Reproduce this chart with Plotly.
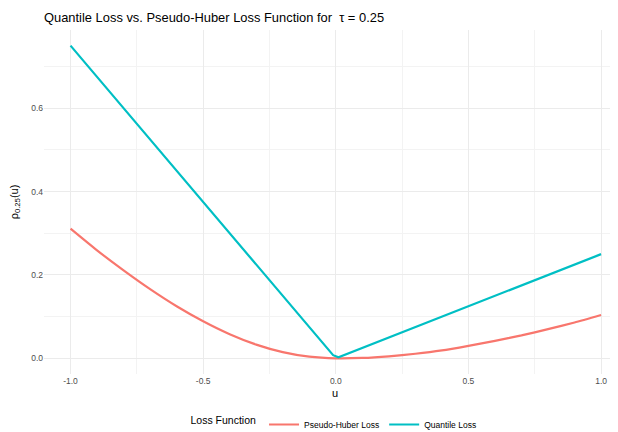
import plotly.graph_objects as go

# Data
u_huber = [-1.0, -0.9, -0.8, -0.7, -0.6, -0.5, -0.4, -0.3, -0.2, -0.1, 0.0,
           0.1, 0.2, 0.3, 0.4, 0.5, 0.6, 0.7, 0.8, 0.9, 1.0]
huber_loss = [0.311, 0.259, 0.211, 0.166, 0.125, 0.089, 0.058, 0.033, 0.015, 0.004, 0.000,
              0.001, 0.005, 0.011, 0.019, 0.030, 0.042, 0.055, 0.070, 0.086, 0.104]
u_quant = [-1.0, -0.0101, 0.0101, 1.0]
quant_loss = [0.75, 0.0076, 0.0025, 0.25]

x_ticks = [-1.0, -0.5, 0.0, 0.5, 1.0]
x_tick_labels = ["-1.0", "-0.5", "0.0", "0.5", "1.0"]
y_ticks = [0.0, 0.2, 0.4, 0.6]
y_tick_labels = ["0.0", "0.2", "0.4", "0.6"]

RED = "#F8766D"
TEAL = "#00BFC4"
GRID = "#EBEBEB"
FONT = "Liberation Sans, Arial, sans-serif"

# page body adds an 8px offset
W, H = 618, 431

fig = go.Figure()
fig.add_trace(go.Scatter(x=u_huber, y=huber_loss, mode="lines", name="Pseudo-Huber Loss",
                         line=dict(color=RED, width=2.2, shape="spline", smoothing=0.6)))
fig.add_trace(go.Scatter(x=u_quant, y=quant_loss, mode="lines", name="Quantile Loss",
                         line=dict(color=TEAL, width=2.2)))

fig.update_layout(
    width=W, height=H,
    margin=dict(l=36, r=0, t=22, b=H - 365.6, autoexpand=False),
    paper_bgcolor="white", plot_bgcolor="white",
    font=dict(family=FONT, color="#4D4D4D"),
    title=dict(text="Quantile Loss vs. Pseudo-Huber Loss Function for  τ = 0.25",
               font=dict(size=12.9, color="black", family=FONT),
               xref="container", x=36/W, xanchor="left",
               yref="container", y=1 - 9/H, yanchor="middle"),
    xaxis=dict(range=[-1.1, 1.094], tickvals=x_ticks, ticktext=x_tick_labels,
               automargin=False,
               showgrid=True, gridcolor=GRID, gridwidth=1.1, zeroline=False,
               showline=False, ticks="", tickfont=dict(size=8.5, color="#4D4D4D"),
               minor=dict(tickvals=[-0.75, -0.25, 0.25, 0.75], showgrid=True,
                          gridcolor="#F3F3F3", gridwidth=0.6),
               title=dict(text="u", font=dict(size=11, color="black"), standoff=4)),
    yaxis=dict(range=[-0.0375, 0.7875], tickvals=y_ticks, ticktext=y_tick_labels,
               automargin=False,
               showgrid=True, gridcolor=GRID, gridwidth=1.1, zeroline=False,
               showline=False, ticks="", tickfont=dict(size=8.5, color="#4D4D4D"),
               minor=dict(tickvals=[0.1, 0.3, 0.5, 0.7], showgrid=True,
                          gridcolor="#F3F3F3", gridwidth=0.6),
               title=dict(text="ρ<sub>0.25</sub>(u)", font=dict(size=11, color="black"),
                          standoff=14)),
    showlegend=True,
    legend=dict(orientation="h", xref="container", x=327/W, xanchor="center",
                yref="container", y=0.0, yanchor="bottom",
                title=dict(text="Loss Function", font=dict(size=10.5, color="black"), side="left"),
                font=dict(size=8.5, color="black"), itemwidth=30, tracegroupgap=0),
)

fig.write_html("out.html")
